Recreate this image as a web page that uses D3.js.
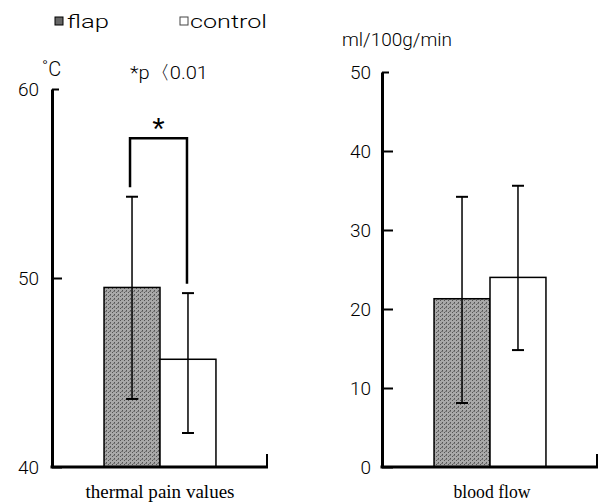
<!DOCTYPE html>
<html><head><meta charset="utf-8">
<script src="https://cdn.jsdelivr.net/npm/d3@7"></script>
<style>
html,body{margin:0;padding:0;background:#fff;}
svg{display:block;}
</style></head>
<body><svg id="c" width="603" height="503"></svg>
<script>
// ---- data ----
const series = ["flap", "control"];
const panelTitles = ["thermal pain values", "blood flow"];
const unitLabels = ["˚C", "ml/100g/min"];
const thermalMean = [49.5, 45.7];
const thermalLow  = [43.6, 41.8];
const thermalHigh = [54.3, 49.2];
const flowMean = [21.3, 24.0];
const flowLow  = [8.1, 14.8];
const flowHigh = [34.2, 35.6];
const thermalTicks = [40, 50, 60];
const flowTicks = [0, 10, 20, 30, 40, 50];
const sigText = "*p〈0.01";
const sigBracket = [54.8, 57.4, 49.7]; // left foot, top, right foot (°C)

// ---- drawing ----
const svg = d3.select("#c");
const sans = "Roboto, 'Liberation Sans', Arial, sans-serif";
const sansW = 300;
const serif = "'Liberation Serif', 'Times New Roman', serif";

// texture pattern for flap bars
const defs = svg.append("defs");
const pat = defs.append("pattern").attr("id","tex").attr("patternUnits","userSpaceOnUse")
  .attr("width",4).attr("height",4);
pat.append("rect").attr("width",4).attr("height",4).attr("fill","#a8a8a8");
pat.append("rect").attr("x",0).attr("y",0).attr("width",1).attr("height",1).attr("fill","#555");
pat.append("rect").attr("x",2).attr("y",2).attr("width",1).attr("height",1).attr("fill","#555");
pat.append("rect").attr("x",1).attr("y",3).attr("width",2).attr("height",1).attr("fill","#777");

function panel(cfg) {
  const g = svg.append("g");
  const x = d3.scaleBand().domain(series).range(cfg.xr).paddingInner(0).paddingOuter(0.93);
  const y = d3.scaleLinear().domain(cfg.dom).range(cfg.yr);
  const y0 = cfg.dom[0];

  // bars
  g.selectAll("rect.bar").data(series).join("rect")
    .attr("x", d => x(d)).attr("width", x.bandwidth())
    .attr("y", (d,i) => y(cfg.mean[i])).attr("height", (d,i) => y(y0) - y(cfg.mean[i]))
    .attr("fill", (d,i) => i === 0 ? "url(#tex)" : "#fff")
    .attr("stroke", "#000").attr("stroke-width", 1.5);

  // error bars
  series.forEach((s,i) => {
    const cx = x(s) + x.bandwidth()/2;
    g.append("line").attr("x1",cx).attr("x2",cx).attr("y1",y(cfg.low[i])).attr("y2",y(cfg.high[i]))
      .attr("stroke","#000").attr("stroke-width",1.5);
    [cfg.low[i], cfg.high[i]].forEach(v => {
      g.append("line").attr("x1",cx-6).attr("x2",cx+6).attr("y1",y(v)).attr("y2",y(v))
        .attr("stroke","#000").attr("stroke-width",2);
    });
  });

  // y axis
  const ax = g.append("g").attr("transform", `translate(${cfg.xr[0]},0)`)
    .call(d3.axisLeft(y).tickValues(cfg.ticks).tickSizeInner(-cfg.tick).tickSizeOuter(0).tickPadding(cfg.pad));
  ax.select(".domain").attr("stroke-width", 3);
  ax.selectAll(".tick line").attr("stroke-width", 2);
  ax.selectAll(".tick text").attr("font-family", sans).attr("font-weight", sansW)
    .attr("font-size", 19).attr("fill","#000");
  ax.selectAll(".tick").filter(d => d === cfg.dom[1]).select("line").attr("x2", 7);

  // x axis baseline
  g.append("line").attr("x1", cfg.xr[0]-1.5).attr("x2", cfg.xr[1]).attr("y1", y(y0)).attr("y2", y(y0))
    .attr("stroke","#000").attr("stroke-width",3);
  g.append("line").attr("x1", cfg.xr[1]-1).attr("x2", cfg.xr[1]-1).attr("y1", y(y0)).attr("y2", y(y0)-13)
    .attr("stroke","#000").attr("stroke-width",2);

  // title
  g.append("text").attr("x", (cfg.xr[0]+cfg.xr[1])/2 + cfg.titleDx).attr("y", 498)
    .attr("text-anchor","middle").attr("font-family", serif).attr("font-size", 18)
    .attr("textLength", cfg.titleLen).attr("lengthAdjust","spacingAndGlyphs").text(cfg.title);
  return {x, y, g};
}

const L = panel({xr:[52,268], yr:[467,89], dom:[40,60], ticks:thermalTicks, mean:thermalMean,
  low:thermalLow, high:thermalHigh, tick:10, pad:13, title:panelTitles[0], titleDx:-0, titleLen:149});
const R = panel({xr:[382,598], yr:[467,72], dom:[0,50], ticks:flowTicks, mean:flowMean,
  low:flowLow, high:flowHigh, tick:11, pad:11, title:panelTitles[1], titleDx:2, titleLen:77});

// significance bracket
{
  const cx0 = L.x(series[0]) + L.x.bandwidth()/2 - 2;
  const cx1 = L.x(series[1]) + L.x.bandwidth()/2 - 1;
  const y = L.y;
  L.g.append("path").attr("fill","none").attr("stroke","#000").attr("stroke-width",2.5)
    .attr("d", `M${cx0},${y(sigBracket[0])}V${y(sigBracket[1])}H${cx1}V${y(sigBracket[2])}`);
  L.g.append("text").attr("x",(cx0+cx1)/2).attr("y", y(sigBracket[1]) + 2)
    .attr("text-anchor","middle").attr("font-family","'Liberation Sans', Arial, sans-serif")
    .attr("fill","#000").attr("font-size",32).text("*");
}

// unit labels
svg.append("text").attr("x",42).attr("y",76).attr("font-family",sans).attr("font-weight",sansW)
  .attr("font-size",20).text(unitLabels[0]);
svg.append("text").attr("x",342).attr("y",46).attr("font-family",sans).attr("font-weight",sansW)
  .attr("font-size",18).attr("textLength",110).attr("lengthAdjust","spacingAndGlyphs").text(unitLabels[1]);
svg.append("text").attr("x",130).attr("y",79)
  .attr("font-family",sans).attr("font-weight",sansW).attr("font-size",19)
  .attr("textLength",78).attr("lengthAdjust","spacingAndGlyphs").text(sigText);

// legend
const legX = [55, 180], legLen = [42, 77];
series.forEach((s,i) => {
  svg.append("rect").attr("x",legX[i]).attr("y",17).attr("width",8).attr("height",8)
    .attr("fill", i===0 ? "#666" : "#fff").attr("stroke", i===0 ? "#000" : "#444").attr("stroke-width",1);
  svg.append("text").attr("x",legX[i] + (i===0 ? 12 : 10)).attr("y",28).attr("font-family",sans)
    .attr("font-weight",sansW).attr("font-size",19)
    .attr("textLength", legLen[i]).attr("lengthAdjust","spacingAndGlyphs").text(s);
});
</script></body></html>
